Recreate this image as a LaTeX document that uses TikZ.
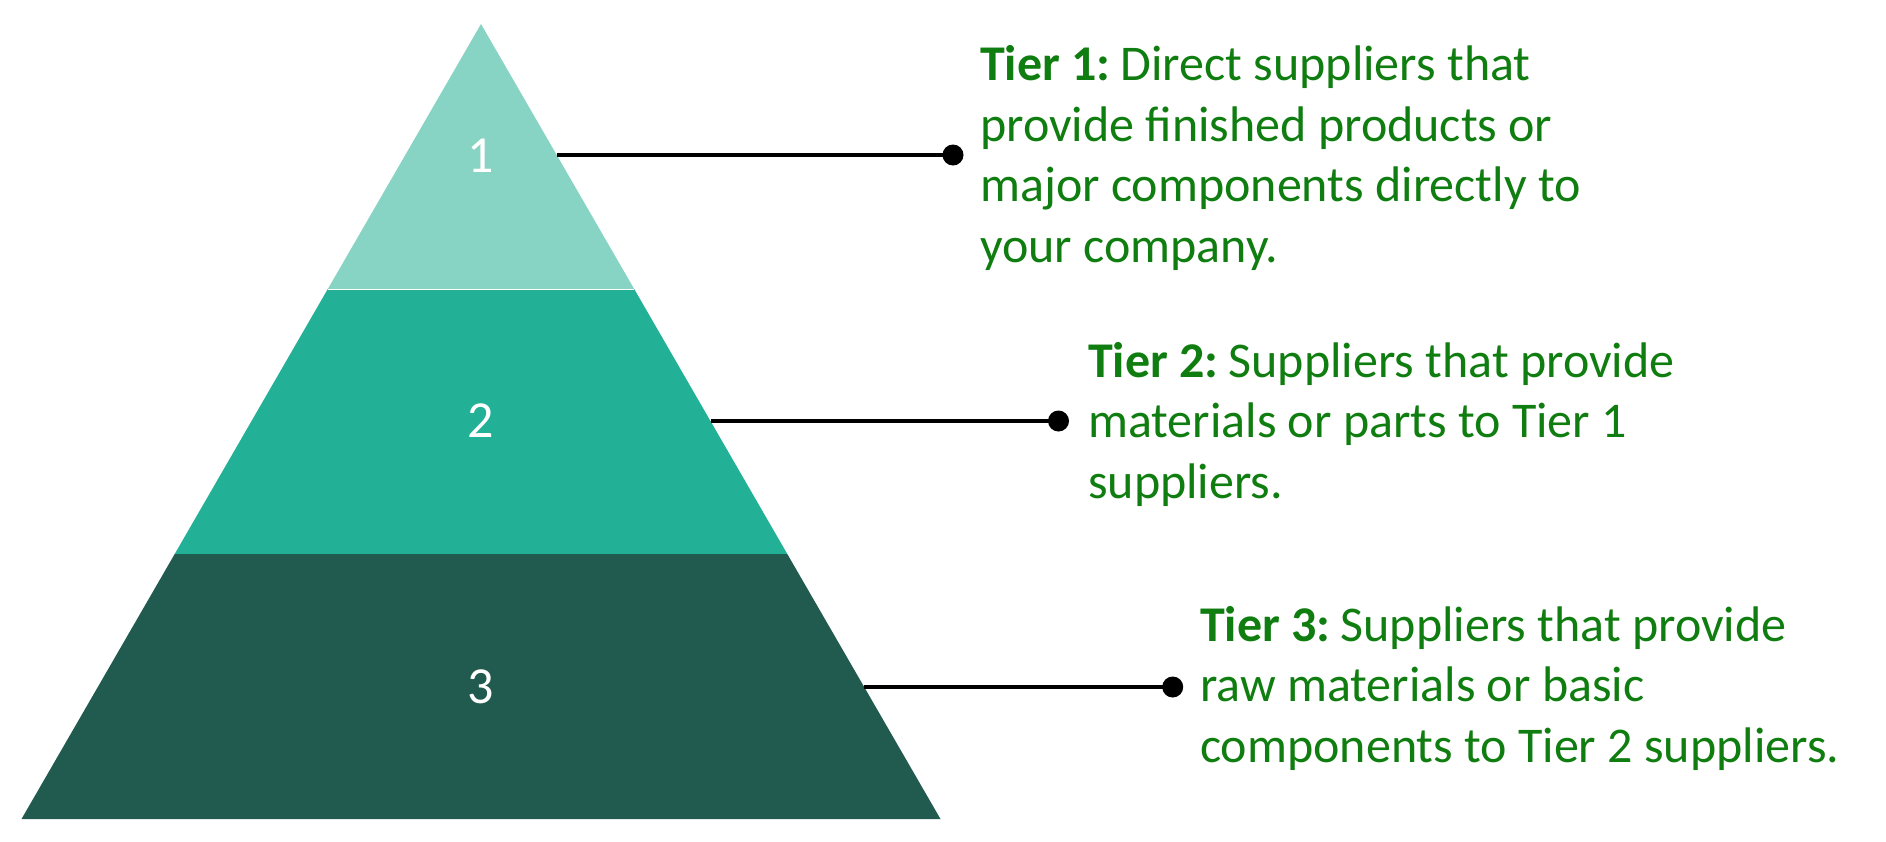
\documentclass[tikz,border=0pt]{standalone}
\usepackage{fontspec}
\setmainfont{Carlito}
\definecolor{tierA}{RGB}{136,212,196}
\definecolor{tierB}{RGB}{34,176,150}
\definecolor{tierC}{RGB}{33,90,79}
\definecolor{txtgreen}{RGB}{16,125,16}
\newcommand{\tierlab}[1]{\textbf{#1}\hspace{-5pt} }
\begin{document}
\begin{tikzpicture}[x=1pt,y=-1pt,
  num/.style={text=white,font=\fontsize{52}{56}\selectfont,inner sep=0pt},
  conn/.style={line width=3.4pt,black},
  dotnode/.style={circle,fill=black,minimum size=21pt,inner sep=0pt},
  desc/.style={text=txtgreen,font=\fontsize{50}{60.5}\selectfont,align=left,anchor=base west,inner sep=0pt}]
\useasboundingbox (0,0) rectangle (1886,841);
% tiers
\fill[tierA] (481,24) -- (634.2,289) -- (327.8,289) -- cycle;
\fill[tierB] (327.8,289) -- (634.2,289) -- (787.3,554) -- (174.7,554) -- cycle;
\fill[tierC] (174.7,554) -- (787.3,554) -- (940.5,819) -- (21.5,819) -- cycle;
\draw[white,line width=1pt] (327.8,289) -- (634.2,289);
% numbers
\node[num] (n1) at (481,156) {1};
\node[num] (n2) at (481,421) {2};
\node[num] (n3) at (481,687) {3};
% connectors
\coordinate (e1) at (556.7,155);
\coordinate (e2) at (710.5,421);
\coordinate (e3) at (864.2,687);
\node[dotnode] (d1) at (953,155) {};
\node[dotnode] (d2) at (1058.5,421) {};
\node[dotnode] (d3) at (1172.7,687) {};
\draw[conn] (e1) -- (d1.center);
\draw[conn] (e2) -- (d2.center);
\draw[conn] (e3) -- (d3.center);
% texts (base anchor = baseline of last line)
\node[desc] (t1) at (980,262) {\tierlab{Tier 1:}Direct suppliers that\\provide finished products or\\major components directly to\\your company.};
\node[desc] (t2) at (1088,498) {\tierlab{Tier 2:}Suppliers that provide\\materials or parts to Tier 1\\suppliers.};
\node[desc] (t3) at (1200,762) {\tierlab{Tier 3:}Suppliers that provide\\raw materials or basic\\components to Tier 2 suppliers.};
\end{tikzpicture}
\end{document}
